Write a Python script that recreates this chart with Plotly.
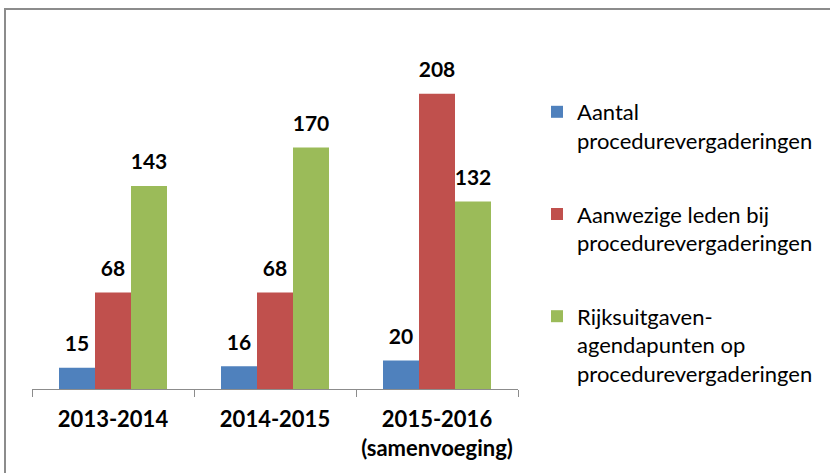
import plotly.graph_objects as go

categories = ["2013-2014", "2014-2015", "2015-2016<br>(samenvoeging)"]
series_names = [
    "Aantal<br>procedurevergaderingen",
    "Aanwezige leden bij<br>procedurevergaderingen",
    "Rijksuitgaven-<br>agendapunten op<br>procedurevergaderingen",
]
aantal = [15, 16, 20]
aanwezig = [68, 68, 208]
rijks = [143, 170, 132]
colors = ["#4F81BD", "#C0504D", "#9BBB59"]

W, H = 830, 473
L, R, T, B = 32, 312, 34, 84
PW, PH = W - L - R, H - T - B

fig = go.Figure()
for i, (name, vals) in enumerate(zip(series_names, [aantal, aanwezig, rijks])):
    fig.add_trace(go.Bar(
        x=categories, y=vals, name=name,
        marker=dict(color=colors[i], line=dict(width=0)),
        text=[f"<span style='font-size:21px'><b>{v}</b></span><br> " for v in vals],
        textposition="outside",
        constraintext="none",
        textfont=dict(family="Lato", size=9, color="#000000"),
        cliponaxis=False,
        legendgroup=f"g{i}",
    ))

fig.update_layout(
    width=W, height=H,
    margin=dict(l=L, r=R, t=T, b=B, pad=0),
    paper_bgcolor="white", plot_bgcolor="white",
    barmode="group", bargap=1/3, bargroupgap=0,
    font=dict(family="Lato", size=20, color="#000000"),
    showlegend=True,
    legend=dict(
        x=(537 - L) / PW, y=(H - B - 91) / PH, xanchor="left", yanchor="top",
        font=dict(family="Lato", size=22, color="#000000"),
        tracegroupgap=42, itemwidth=30, traceorder="grouped", valign="top",
        bgcolor="rgba(0,0,0,0)",
    ),
    xaxis=dict(
        showline=True, linecolor="#8c8c8c", linewidth=1,
        ticks="outside", tickson="boundaries", ticklen=7, tickcolor="#8c8c8c",
        ticklabelstandoff=11,
        tickfont=dict(family="Lato", size=22, color="#000000", weight="bold"),
        showgrid=False, zeroline=False,
    ),
    yaxis=dict(
        range=[0, 250], visible=False, showgrid=False, zeroline=False,
    ),
    shapes=[dict(
        type="rect", xref="paper", yref="paper",
        x0=(5 - L) / PW, x1=(W + 20 - L) / PW,
        y0=-(H + 20 - (H - B)) / PH, y1=(H - B - 9) / PH,
        line=dict(color="#8c8c8c", width=2), fillcolor="rgba(0,0,0,0)",
        layer="below",
    )],
)

fig.write_html(
    "out.html",
    config={"displayModeBar": False},
    post_script="document.body.style.margin='0px';",
)
